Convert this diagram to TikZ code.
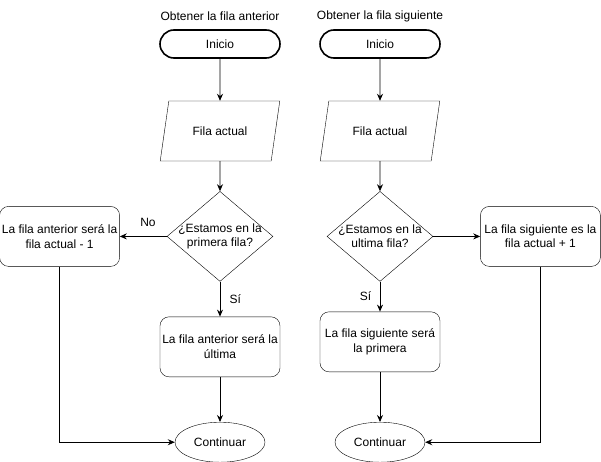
\documentclass[tikz,border=0pt]{standalone}
\usepackage{fontspec}
\setmainfont{Liberation Sans}
\usetikzlibrary{arrows.meta, positioning, shapes.geometric}

\begin{document}
\begin{tikzpicture}[
  x=1pt, y=-1pt,
  font=\fontsize{12}{14.5}\selectfont,
  start/.style={draw, line width=1.6pt, rounded corners=14pt,
                minimum width=120pt, minimum height=28pt},
  datos/.style={draw, trapezium, trapezium left angle=71.57, trapezium right angle=108.43,
                trapezium stretches=true, minimum width=120pt, minimum height=60pt},
  decision/.style={draw, diamond, minimum width=106pt, minimum height=90pt, inner sep=0pt},
  box/.style={draw, rounded corners=9pt, align=center, minimum width=120pt,
              minimum height=60pt, inner sep=1pt},
  fin/.style={draw, ellipse, minimum width=90pt, minimum height=40pt},
  arr/.style={-{Stealth[length=7pt, width=6pt]}, line width=0.8pt}]
\useasboundingbox (0,0) rectangle (601,462);
% obtener la fila anterior
\node (tit1) at (220,16) {Obtener la fila anterior};
\node[start] (ini1) at (220,44) {Inicio};
\node[datos, below=42pt of ini1] (fila1) {Fila actual};
\node[decision, below=30pt of fila1, label={[align=center]center:¿Estamos en la\\primera fila?}] (dec1) {};
\node[box, below=35pt of dec1] (ult1) {La fila anterior será la\\última};
\node[fin, below=45pt of ult1] (cont1) {Continuar};
\node[box, left=47pt of dec1] (act1) {La fila anterior será la\\fila actual - 1};
\draw[arr] (ini1) -- (fila1);
\draw[arr] (fila1) -- (dec1);
\draw[arr] (dec1) -- (act1) node[pos=0.4, above=6pt] {No};
\draw[arr] (dec1) -- (ult1) node[midway, right=6pt] {Sí};
\draw[arr] (ult1) -- (cont1);
\draw[arr] (act1.south) |- (cont1.west);
% obtener la fila siguiente
\node (tit2) at (380,16) {Obtener la fila siguiente};
\node[start] (ini2) at (380,44) {Inicio};
\node[datos, below=42pt of ini2] (fila2) {Fila actual};
\node[decision, below=30pt of fila2, label={[align=center]center:¿Estamos en la\\ultima fila?}] (dec2) {};
\node[box, below=30pt of dec2] (pri2) {La fila siguiente será\\la primera};
\node[fin, below=50pt of pri2] (cont2) {Continuar};
\node[box, right=47pt of dec2] (act2) {La fila siguiente es la\\fila actual + 1};
\draw[arr] (ini2) -- (fila2);
\draw[arr] (fila2) -- (dec2);
\draw[arr] (dec2) -- (act2);
\draw[arr] (dec2) -- (pri2) node[midway, left=5pt] {Sí};
\draw[arr] (pri2) -- (cont2);
\draw[arr] (act2.south) |- (cont2.east);
\end{tikzpicture}
\end{document}
